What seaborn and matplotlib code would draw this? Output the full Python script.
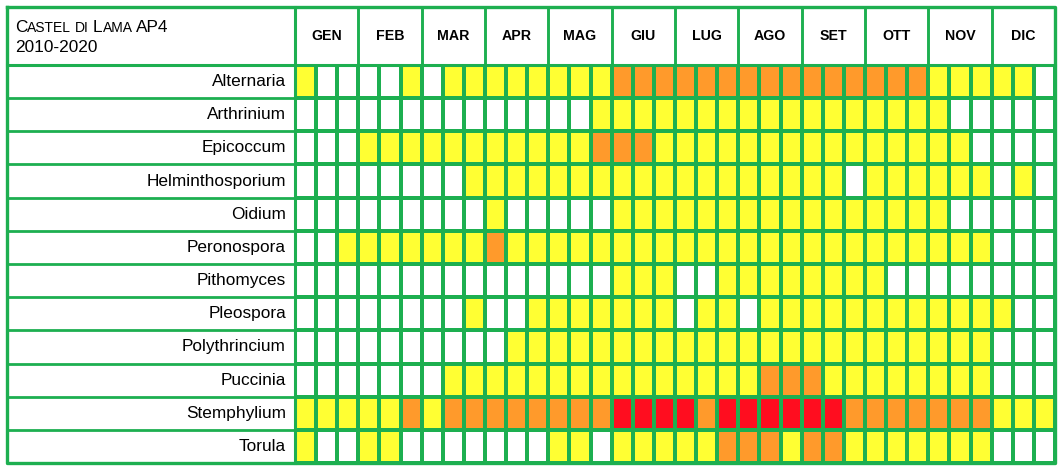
import numpy as np
import pandas as pd
import matplotlib
matplotlib.use("Agg")
import matplotlib.pyplot as plt
import seaborn as sns
from matplotlib.colors import ListedColormap

# ---------------- data ----------------
months = ["GEN", "FEB", "MAR", "APR", "MAG", "GIU", "LUG", "AGO", "SET", "OTT", "NOV", "DIC"]
species = ["Alternaria", "Arthrinium", "Epicoccum", "Helminthosporium", "Oidium",
           "Peronospora", "Pithomyces", "Pleospora", "Polythrincium", "Puccinia",
           "Stemphylium", "Torula"]
# class per ten-day period (3 per month): 0 none, 1 low (yellow), 2 medium (orange), 3 high (red)
alternaria       = [1,0,0, 0,0,1, 0,1,1, 1,1,1, 1,1,1, 2,2,2, 2,2,2, 2,2,2, 2,2,2, 2,2,2, 1,1,1, 1,1,0]
arthrinium       = [0,0,0, 0,0,0, 0,0,0, 0,0,0, 0,0,1, 1,1,1, 1,1,1, 1,1,1, 1,1,1, 1,1,1, 1,0,0, 0,0,0]
epicoccum        = [0,0,0, 1,1,1, 1,1,1, 1,1,1, 1,1,2, 2,2,1, 1,1,1, 1,1,1, 1,1,1, 1,1,1, 1,1,0, 0,0,0]
helminthosporium = [0,0,0, 0,0,0, 0,0,1, 1,1,1, 1,1,1, 1,1,1, 1,1,1, 1,1,1, 1,1,0, 1,1,1, 1,1,1, 0,1,0]
oidium           = [0,0,0, 0,0,0, 0,0,0, 1,0,0, 0,0,0, 1,1,1, 1,1,1, 1,1,1, 1,1,1, 1,1,1, 1,0,0, 0,0,0]
peronospora      = [0,0,1, 1,1,1, 1,1,1, 2,1,1, 1,1,1, 1,1,1, 1,1,1, 1,1,1, 1,1,1, 1,1,1, 1,1,1, 0,0,0]
pithomyces       = [0,0,0, 0,0,0, 0,0,0, 0,0,0, 0,0,0, 1,1,1, 0,0,1, 1,1,1, 1,1,1, 1,0,0, 0,0,0, 0,0,0]
pleospora        = [0,0,0, 0,0,0, 0,0,1, 0,0,1, 1,1,1, 1,1,1, 0,1,1, 0,1,1, 1,1,1, 1,1,1, 1,1,1, 1,0,0]
polythrincium    = [0,0,0, 0,0,0, 0,0,0, 0,1,1, 1,1,1, 1,1,1, 1,1,1, 1,1,1, 1,1,1, 1,1,1, 1,1,1, 0,0,0]
puccinia         = [0,0,0, 0,0,0, 0,1,1, 1,1,1, 1,1,1, 1,1,1, 1,1,1, 1,2,2, 2,1,1, 1,1,1, 1,1,1, 0,0,0]
stemphylium      = [1,1,1, 1,1,2, 1,2,2, 2,2,2, 2,2,2, 3,3,3, 3,2,3, 3,3,3, 3,3,2, 2,2,2, 2,2,2, 1,1,1]
torula           = [1,0,0, 1,1,0, 0,0,0, 0,0,0, 1,1,0, 1,1,1, 1,1,2, 2,2,1, 2,2,1, 1,1,1, 1,1,1, 0,0,0]

title_line2 = "2010-2020"

rows = [alternaria, arthrinium, epicoccum, helminthosporium, oidium, peronospora,
        pithomyces, pleospora, polythrincium, puccinia, stemphylium, torula]
decades = [f"{m}{d}" for m in months for d in (1, 2, 3)]
df = pd.DataFrame(rows, index=species, columns=decades)

# ---------------- style ----------------
W, H = 1064, 473
GREEN = "#1DAF50"
cmap = ListedColormap(["#FFFFFF", "#FFFF33", "#FF9A2B", "#FF0D1F"])
FONT = ["Liberation Sans", "DejaVu Sans"]

fig = plt.figure(figsize=(W / 100, H / 100), dpi=100)
# table geometry in pixels
TL, TT, TR, TB = 7, 7, 1055, 463     # outer border
GL, GT = 295, 65                       # grid left / header bottom
ax = fig.add_axes([GL / W, 1 - TB / H, (TR - GL) / W, (TB - GT) / H])

sns.heatmap(df, ax=ax, cmap=cmap, vmin=-0.5, vmax=3.5, cbar=False,
            linewidths=1.5, linecolor=GREEN, xticklabels=False)

ax.set_yticks(np.arange(len(species)) + 0.5)
ax.set_yticklabels(species, rotation=0, fontsize=12.4, family=FONT)
ax.tick_params(axis="y", length=0, pad=6.5)
ax.tick_params(axis="x", length=0)
ax.set_xlabel("")
ax.set_ylabel("")

ncol, nrow = df.shape[1], df.shape[0]
sx = ncol / (TR - GL)   # data units per pixel (x)
sy = nrow / (TB - GT)   # data units per pixel (y)
xL = (TL - GL) * sx
yT = (TT - GT) * sy

kw = dict(color=GREEN, clip_on=False, solid_capstyle="projecting")
# row separators
for r in range(1, nrow):
    ax.plot([xL, ncol], [r, r], lw=2.0, **kw)
# month separators (through header)
for m in range(1, len(months)):
    ax.plot([3 * m, 3 * m], [yT, nrow], lw=2.1, **kw)
# header bottom, label column edge, outer border
ax.plot([xL, ncol], [0, 0], lw=2.2, **kw)
ax.plot([0, 0], [yT, nrow], lw=2.2, **kw)
ax.plot([xL, ncol, ncol, xL, xL], [yT, yT, nrow, nrow, yT], lw=2.4, **kw)

# month labels
for i, m in enumerate(months):
    ax.text(3 * i + 1.5, yT / 2, m, ha="center", va="center", fontsize=10.2,
            fontweight="bold", family=FONT, clip_on=False)

# title in small caps
renderer = fig.canvas.get_renderer()
big, small = 12.4, 10
pieces = [("C", big), ("ASTEL", small), (" ", small), ("DI", small), (" ", small),
          ("L", big), ("AMA", small), (" ", small), ("AP4", big)]
x = 15.0
for s, fs in pieces:
    if s == " ":
        x += 0.278 * fs * 100 / 72
        continue
    t = fig.text(x / W, 1 - 32 / H, s, fontsize=fs, family=FONT, ha="left", va="baseline")
    x += t.get_window_extent(renderer).width
fig.text(15 / W, 1 - 52 / H, title_line2, fontsize=big, family=FONT, ha="left", va="baseline")

fig.savefig("out.png", dpi=100, facecolor="white")
